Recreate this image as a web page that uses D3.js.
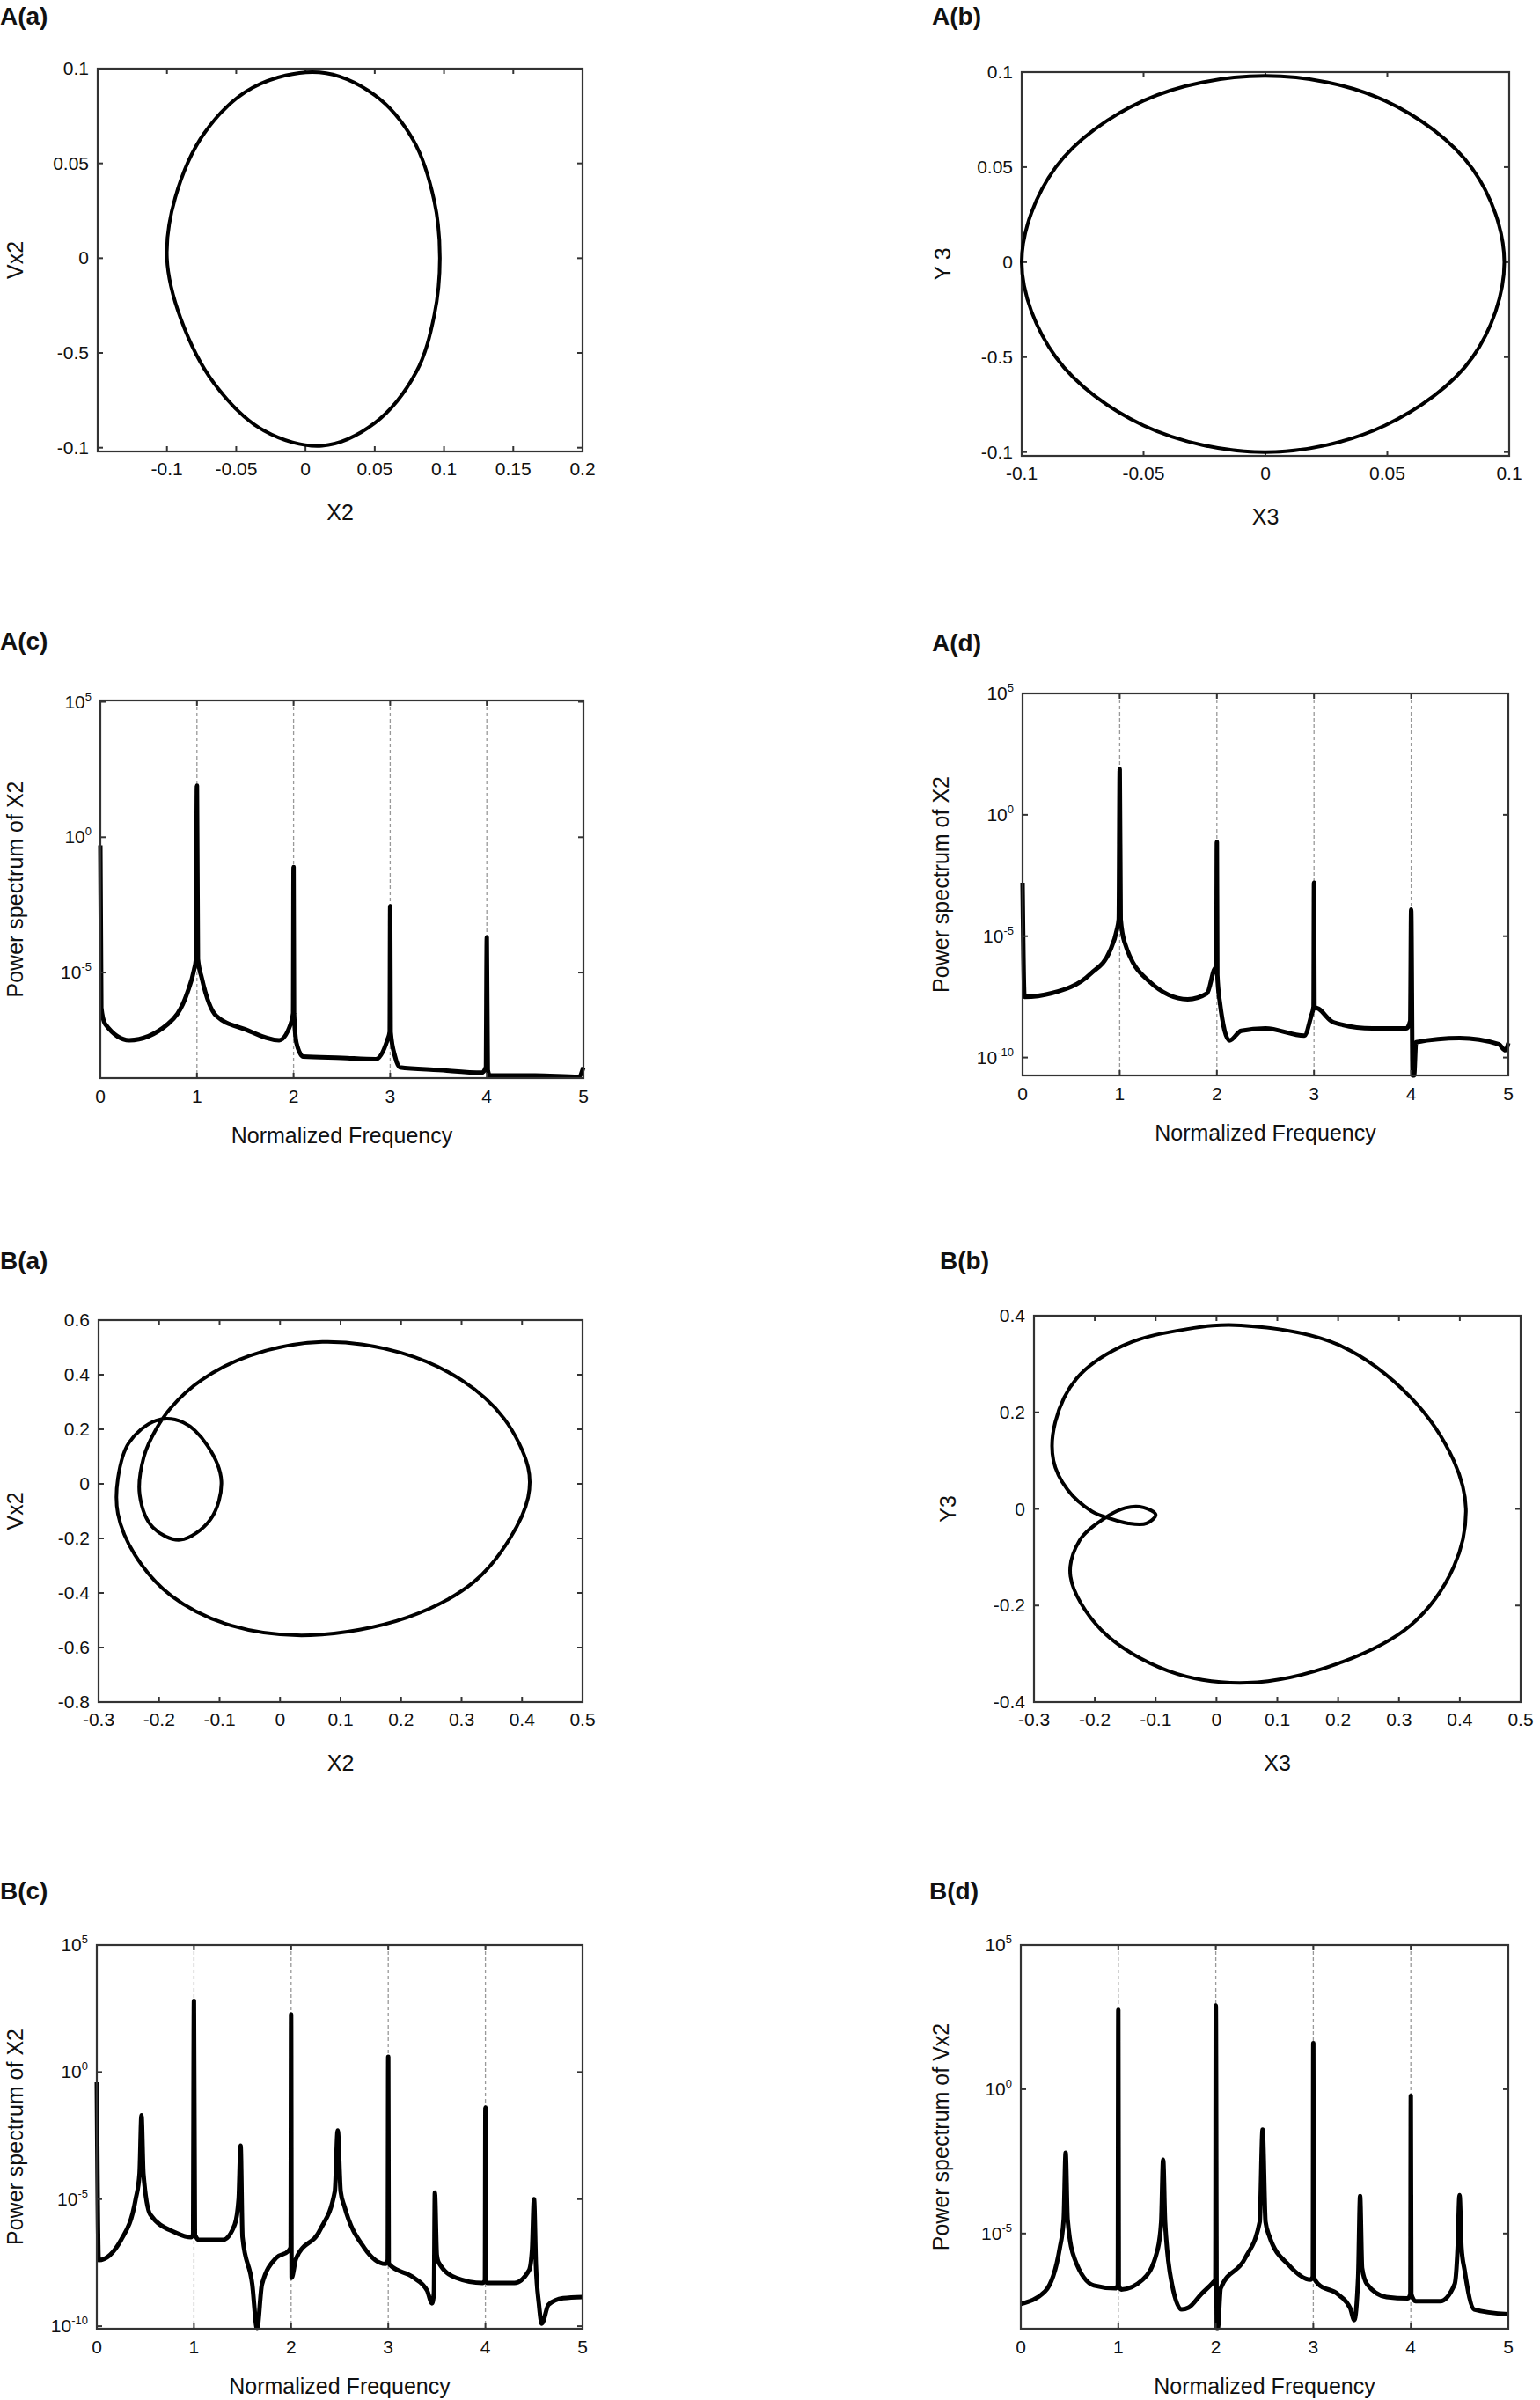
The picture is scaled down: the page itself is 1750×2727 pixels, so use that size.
<!DOCTYPE html>
<html><head><meta charset="utf-8">
<script src="https://cdn.jsdelivr.net/npm/d3@7/dist/d3.min.js"></script>
<style>body{margin:0;background:#fff}text{font-family:"Liberation Sans",Arial,sans-serif;fill:#111}</style>
</head><body>
<svg id="c" width="1750" height="2727"></svg>
<script>
// ---------- DATA ----------
const panelTitles = ["A(a)","A(b)","A(c)","A(d)","B(a)","B(b)","B(c)","B(d)"];
const phaseTicksAaX = [-0.1,-0.05,0,0.05,0.1,0.15,0.2];
const phaseTicksAaXLabels = ["-0.1","-0.05","0","0.05","0.1","0.15","0.2"];
const phaseTicksAY = [0.1,0.05,0,-0.05,-0.1];
const phaseTicksAYLabels = ["0.1","0.05","0","-0.5","-0.1"];
const phaseTicksAbX = [-0.1,-0.05,0,0.05,0.1];
const phaseTicksAbXLabels = ["-0.1","-0.05","0","0.05","0.1"];
const phaseTicksBX = [-0.3,-0.2,-0.1,0,0.1,0.2,0.3,0.4,0.5];
const phaseTicksBaY = [0.6,0.4,0.2,0,-0.2,-0.4,-0.6,-0.8];
const phaseTicksBbY = [0.4,0.2,0,-0.2,-0.4];
const freqTicks = [0,1,2,3,4,5];
const gridFreq = [1,2,3,4];

// orbit A(a): [X2, Vx2]
const orbitAa = [[0.01,0.098],[0.05,0.086],[0.078,0.062],[0.093,0.03],[0.097,0],[0.093,-0.03],[0.08,-0.06],[0.05,-0.087],[0.012,-0.099],[-0.03,-0.091],[-0.066,-0.066],[-0.09,-0.032],[-0.1,0],[-0.094,0.032],[-0.073,0.066],[-0.038,0.09]];
// orbit A(b): [X3, Y3]
const orbitAb = [[0,0.098],[0.049,0.085],[0.085,0.049],[0.098,0],[0.085,-0.05],[0.049,-0.086],[0,-0.1],[-0.05,-0.086],[-0.086,-0.05],[-0.1,0],[-0.086,0.05],[-0.05,0.085]];
// orbit B(a): [X2, Vx2]
const orbitBa = [[-0.18,0.28],[-0.13,0.38],[-0.05,0.47],[0.07,0.52],[0.2,0.48],[0.3,0.38],[0.37,0.24],[0.41,0.06],[0.41,-0.05],[0.38,-0.2],[0.32,-0.36],[0.21,-0.49],[0.05,-0.555],[-0.08,-0.52],[-0.18,-0.41],[-0.24,-0.26],[-0.268,-0.11],[-0.268,0.02],[-0.25,0.15],[-0.205,0.232],[-0.16,0.225],[-0.12,0.14],[-0.097,0.01],[-0.115,-0.13],[-0.165,-0.205],[-0.21,-0.16],[-0.232,-0.04],[-0.225,0.1],[-0.205,0.2]];
// orbit B(b): [X3, Y3]
const orbitBb = [[0.04,0.38],[0.2,0.34],[0.32,0.23],[0.39,0.1],[0.41,0],[0.39,-0.12],[0.32,-0.24],[0.2,-0.32],[0.05,-0.36],[-0.08,-0.335],[-0.19,-0.25],[-0.24,-0.14],[-0.225,-0.065],[-0.185,-0.02],[-0.15,0.002],[-0.12,0.003],[-0.1,-0.012],[-0.115,-0.03],[-0.145,-0.03],[-0.175,-0.02],[-0.205,-0.005],[-0.245,0.04],[-0.268,0.1],[-0.265,0.18],[-0.23,0.27],[-0.15,0.34],[-0.05,0.372]];

// spectra: frequency and log10(power)
const specAcF = [0,0.01,0.05,0.3,0.7,0.9,0.97,0.99,1.0,1.01,1.05,1.2,1.5,1.85,1.97,1.995,2.0,2.005,2.03,2.1,2.5,2.85,2.97,2.995,3.0,3.005,3.05,3.1,3.5,3.95,3.99,4.0,4.01,4.03,4.5,4.95,5.0];
const specAcP = [-0.3,-6.3,-6.9,-7.5,-6.9,-5.75,-4.9,-4.5,1.9,-4.5,-5.2,-6.6,-7.1,-7.5,-6.9,-6.5,-1.1,-6.5,-7.6,-8.1,-8.15,-8.2,-7.5,-7.2,-2.55,-7.2,-8.1,-8.5,-8.6,-8.7,-8.5,-3.7,-8.6,-8.8,-8.8,-8.85,-8.5];
const specAdF = [0,0.02,0.3,0.7,0.9,0.97,0.99,1.0,1.01,1.05,1.3,1.7,1.9,1.97,1.995,2.0,2.005,2.03,2.13,2.25,2.5,2.9,2.97,2.995,3.0,3.005,3.05,3.2,3.6,3.95,3.99,4.0,4.015,4.03,4.05,4.5,4.9,4.97,5.0];
const specAdP = [-2.8,-7.5,-7.35,-6.55,-5.6,-4.75,-4.3,1.88,-4.3,-5.25,-6.85,-7.6,-7.35,-6.4,-6.2,-1.12,-6.6,-7.7,-9.3,-8.9,-8.8,-9.1,-8.3,-7.9,-2.8,-7.9,-8.0,-8.55,-8.8,-8.8,-8.5,-3.9,-10.8,-10.8,-9.37,-9.2,-9.45,-9.7,-9.4];
const specBcF = [0,0.02,0.25,0.4,0.44,0.46,0.48,0.55,0.8,0.97,0.99,1.0,1.01,1.05,1.3,1.42,1.46,1.48,1.5,1.6,1.65,1.7,1.85,1.97,1.995,2.0,2.005,2.05,2.3,2.45,2.48,2.51,2.55,2.75,2.97,2.995,3.0,3.005,3.02,3.25,3.4,3.45,3.47,3.48,3.5,3.52,3.7,3.97,3.995,4.0,4.005,4.02,4.3,4.45,4.48,4.5,4.52,4.55,4.58,4.65,4.8,5.0];
const specBcP = [-0.4,-7.4,-6.6,-5.0,-4.0,-1.7,-4.0,-5.6,-6.3,-6.5,-6.4,2.8,-6.4,-6.6,-6.6,-6.0,-5.0,-2.9,-6.5,-8.35,-10.2,-8.35,-7.3,-7.05,-6.9,2.27,-8.1,-7.35,-6.2,-4.7,-2.3,-4.7,-5.3,-6.9,-7.55,-7.4,0.6,-7.5,-7.6,-8.06,-8.6,-9.1,-8.7,-4.74,-7.2,-7.5,-8.1,-8.3,-8.2,-1.4,-8.2,-8.3,-8.3,-7.8,-7.0,-5.0,-7.6,-9.1,-9.9,-9.15,-8.9,-8.85];
const specBdF = [0,0.25,0.4,0.44,0.46,0.48,0.55,0.75,0.97,0.995,1.0,1.005,1.03,1.25,1.4,1.44,1.46,1.48,1.55,1.65,1.72,1.85,1.97,1.995,2.0,2.01,2.02,2.05,2.3,2.45,2.48,2.51,2.55,2.75,2.97,2.995,3.0,3.005,3.05,3.25,3.38,3.42,3.46,3.48,3.5,3.55,3.75,3.97,3.995,4.0,4.005,4.05,4.3,4.45,4.48,4.5,4.52,4.55,4.65,5.0];
const specBdP = [-7.44,-7.0,-5.5,-4.5,-2.2,-4.5,-5.86,-6.8,-6.9,-6.8,2.75,-6.8,-6.94,-6.6,-5.6,-4.6,-2.44,-4.6,-6.75,-7.63,-7.57,-7.1,-6.7,-6.6,2.9,-8.4,-8.4,-6.9,-5.86,-4.6,-1.4,-4.6,-5.1,-6.1,-6.6,-6.5,1.6,-6.5,-6.75,-7.1,-7.6,-8.0,-6.5,-3.7,-6.2,-6.75,-7.2,-7.25,-7.1,-0.23,-7.1,-7.35,-7.35,-6.75,-5.5,-3.67,-5.5,-6.24,-7.63,-7.8];

// ---------- DRAW ----------
const svg = d3.select("#c");
const TICK_FS = 21, LAB_FS = 25, TITLE_FS = 28;

function frame(g, x0, x1, y0, y1){
  g.append("rect").attr("x",x0).attr("y",y0).attr("width",x1-x0).attr("height",y1-y0)
   .attr("fill","none").attr("stroke","#333").attr("stroke-width",2.2);
}
function ticksMarks(g, xs, ys, x, y, x0,x1,y0,y1){
  const L=6;
  xs.forEach(v=>{const px=x(v);
    g.append("line").attr("x1",px).attr("x2",px).attr("y1",y1).attr("y2",y1-L).attr("stroke","#333").attr("stroke-width",2);
    g.append("line").attr("x1",px).attr("x2",px).attr("y1",y0).attr("y2",y0+L).attr("stroke","#333").attr("stroke-width",2);});
  ys.forEach(v=>{const py=y(v);
    g.append("line").attr("y1",py).attr("y2",py).attr("x1",x0).attr("x2",x0+L).attr("stroke","#333").attr("stroke-width",2);
    g.append("line").attr("y1",py).attr("y2",py).attr("x1",x1).attr("x2",x1-L).attr("stroke","#333").attr("stroke-width",2);});
}
function title(t, x, y){
  svg.append("text").attr("x",x).attr("y",y).attr("font-size",TITLE_FS).attr("font-weight","bold").text(t);
}
function labels(g, xl, yl, cx, xly, ylx, cy){
  g.append("text").attr("x",cx).attr("y",xly).attr("text-anchor","middle").attr("font-size",LAB_FS).text(xl);
  g.append("text").attr("transform",`translate(${ylx},${cy}) rotate(-90)`).attr("text-anchor","middle").attr("font-size",LAB_FS).text(yl);
}

function phase(o){
  const g = svg.append("g");
  const x = d3.scaleLinear().domain(o.xd).range([o.x0,o.x1]);
  const y = d3.scaleLinear().domain(o.yd).range([o.y1,o.y0]);
  frame(g,o.x0,o.x1,o.y0,o.y1);
  ticksMarks(g,o.xt,o.yt,x,y,o.x0,o.x1,o.y0,o.y1);
  o.xt.forEach((v,i)=>g.append("text").attr("x",x(v)).attr("y",o.y1+27).attr("text-anchor","middle").attr("font-size",TICK_FS).text(o.xtl[i]));
  o.yt.forEach((v,i)=>g.append("text").attr("x",o.x0-10).attr("y",y(v)+7).attr("text-anchor","end").attr("font-size",TICK_FS).text(o.ytl[i]));
  g.append("path").datum(o.data).attr("fill","none").attr("stroke","#000").attr("stroke-width",o.sw||4)
    .attr("d",d3.line().x(d=>x(d[0])).y(d=>y(d[1])).curve(d3.curveCatmullRomClosed.alpha(0.5)));
  labels(g,o.xl,o.yl,(o.x0+o.x1)/2,o.y1+78,o.ylx,(o.y0+o.y1)/2);
}

function spectrum(o){
  const g = svg.append("g");
  const x = d3.scaleLinear().domain([0,5]).range([o.x0,o.x1]);
  const y = d3.scaleLinear().domain(o.yd).range([o.y1,o.y0]);
  gridFreq.forEach(v=>g.append("line").attr("x1",x(v)).attr("x2",x(v)).attr("y1",o.y0).attr("y2",o.y1)
    .attr("stroke","#999").attr("stroke-width",1.3).attr("stroke-dasharray","4,3"));
  const pts = o.f.map((f,i)=>[f,Math.max(o.yd[0],o.p[i])]);
  g.append("path").datum(pts).attr("fill","none").attr("stroke","#000").attr("stroke-width",5)
    .attr("stroke-linejoin","round").attr("d",d3.line().x(d=>x(d[0])).y(d=>y(d[1])).curve(d3.curveMonotoneX));
  frame(g,o.x0,o.x1,o.y0,o.y1);
  ticksMarks(g,freqTicks,o.yt,x,y,o.x0,o.x1,o.y0,o.y1);
  freqTicks.forEach(v=>g.append("text").attr("x",x(v)).attr("y",o.y1+28).attr("text-anchor","middle").attr("font-size",TICK_FS).text(String(v)));
  o.yt.forEach(v=>{
    const t=g.append("text").attr("x",o.x0-10).attr("y",y(v)+7).attr("text-anchor","end").attr("font-size",TICK_FS);
    t.append("tspan").text("10");
    t.append("tspan").attr("font-size",13).attr("dy",-9).text(String(v));
  });
  labels(g,"Normalized Frequency",o.yl,(o.x0+o.x1)/2,o.y1+74,o.ylx,(o.y0+o.y1)/2);
}

// titles
title(panelTitles[0],0,28); title(panelTitles[1],1059,28);
title(panelTitles[2],0,738); title(panelTitles[3],1059,740);
title(panelTitles[4],0,1442); title(panelTitles[5],1068,1442);
title(panelTitles[6],0,2158); title(panelTitles[7],1056,2158);

phase({x0:111,x1:662,y0:78,y1:513,xd:[-0.15,0.2],yd:[-0.102,0.1],xt:phaseTicksAaX,xtl:phaseTicksAaXLabels,
  yt:phaseTicksAY,ytl:phaseTicksAYLabels,data:orbitAa,xl:"X2",yl:"Vx2",ylx:26});
phase({x0:1161,x1:1715,y0:82,y1:518,xd:[-0.1,0.1],yd:[-0.102,0.1],xt:phaseTicksAbX,xtl:phaseTicksAbXLabels,
  yt:phaseTicksAY,ytl:phaseTicksAYLabels,data:orbitAb,xl:"X3",yl:"Y 3",ylx:1080});
spectrum({x0:114,x1:663,y0:796,y1:1225,yd:[-8.9,5.05],yt:[5,0,-5],f:specAcF,p:specAcP,yl:"Power spectrum of X2",ylx:26});
spectrum({x0:1162,x1:1714,y0:788,y1:1222,yd:[-10.74,5],yt:[5,0,-5,-10],f:specAdF,p:specAdP,yl:"Power spectrum of X2",ylx:1078});
phase({x0:112,x1:662,y0:1500,y1:1934,xd:[-0.3,0.5],yd:[-0.8,0.6],xt:phaseTicksBX,xtl:phaseTicksBX.map(String),
  yt:phaseTicksBaY,ytl:phaseTicksBaY.map(String),data:orbitBa,xl:"X2",yl:"Vx2",ylx:26});
phase({x0:1175,x1:1728,y0:1495,y1:1934,xd:[-0.3,0.5],yd:[-0.4,0.4],xt:phaseTicksBX,xtl:phaseTicksBX.map(String),
  yt:phaseTicksBbY,ytl:phaseTicksBbY.map(String),data:orbitBb,xl:"X3",yl:"Y3",ylx:1086});
spectrum({x0:110,x1:662,y0:2210,y1:2646,yd:[-10.1,5],yt:[5,0,-5,-10],f:specBcF,p:specBcP,yl:"Power spectrum of X2",ylx:26});
spectrum({x0:1160,x1:1714,y0:2210,y1:2646,yd:[-8.3,5],yt:[5,0,-5],f:specBdF,p:specBdP,yl:"Power spectrum of Vx2",ylx:1078});
</script></body></html>
